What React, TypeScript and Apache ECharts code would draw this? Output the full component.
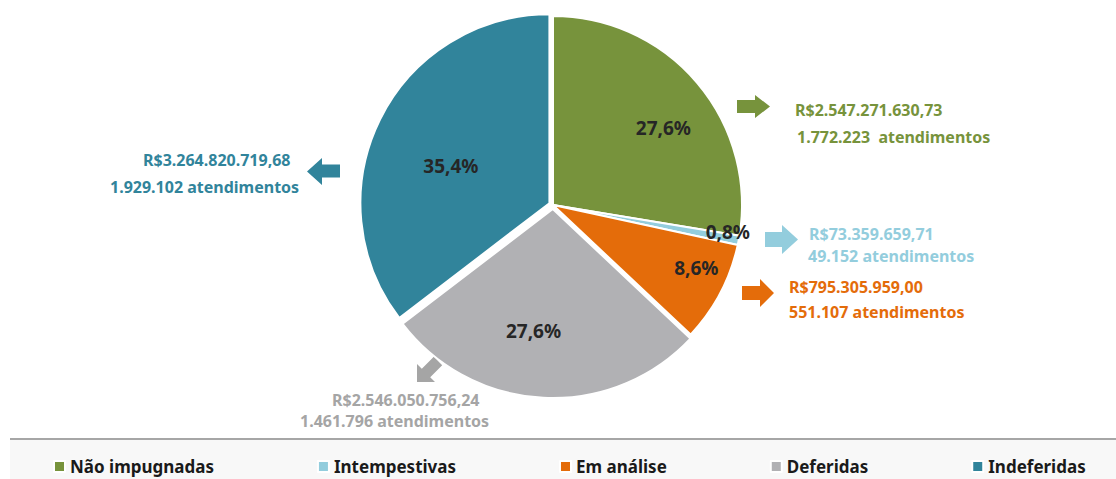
import React, { useEffect, useRef } from "react";
import * as echarts from "echarts";

const categories = ["Não impugnadas", "Intempestivas", "Em análise", "Deferidas", "Indeferidas"];
const amounts = [2547271630.73, 73359659.71, 795305959.0, 2546050756.24, 3264820719.68];
const amountLabels = [
  "R$2.547.271.630,73",
  "R$73.359.659,71",
  "R$795.305.959,00",
  "R$2.546.050.756,24",
  "R$3.264.820.719,68",
];
const countLabels = [
  "1.772.223  atendimentos",
  "49.152 atendimentos",
  "551.107 atendimentos",
  "1.461.796 atendimentos",
  "1.929.102 atendimentos",
];

const colors = ["#77933c", "#93cddd", "#e46c0a", "#b1b1b4", "#31849b"];
const textColors = ["#77933c", "#93cddd", "#e46c0a", "#a5a5a5", "#31849b"];
const exploded = [false, false, false, true, true];
const labelOffsets = [
  [36, -14],
  [79, 9],
  [57, 18],
  [-13, 28],
  [-4, 0],
];
// annotation text anchors: [x1, y1, x2, y2]
const annoPos = [
  [795, 110, 797, 137],
  [809, 234, 808, 256],
  [789, 287, 789, 312],
  [332, 400, 300, 420.5],
  [143, 160, 110, 187],
];
const arrows: number[][][] = [
  [[737, 100], [755, 100], [755, 95], [770, 106.5], [755, 118], [755, 113], [737, 113]],
  [[765, 232], [782, 232], [782, 225], [798, 239.5], [782, 254], [782, 247], [765, 247]],
  [[742, 286], [760, 286], [760, 279], [774, 293], [760, 307], [760, 300], [742, 300]],
  [[417, 382], [417, 364], [421.8, 368.8], [433.8, 356.8], [442.2, 365.2], [430.2, 377.2], [435, 382]],
  [[307, 171.5], [322, 158], [322, 164.5], [340, 164.5], [340, 177.5], [322, 177.5], [322, 185]],
];

const FONT = "'Noto Sans', 'Open Sans', sans-serif";

export default function App() {
  const ref = useRef<HTMLDivElement>(null);
  useEffect(() => {
    document.body.style.margin = "0";
    const chart = echarts.init(ref.current!, null, { renderer: "svg" });
    const graphics: any[] = [
      { type: "rect", shape: { x: 10, y: 440, width: 1106, height: 39 }, style: { fill: "#f8f8f8" }, z: -1 },
      { type: "line", shape: { x1: 10, y1: 439, x2: 1116, y2: 439 }, style: { stroke: "#a6a6a6", lineWidth: 2 } },
    ];
    categories.forEach((_, i) => {
      graphics.push({ type: "polygon", shape: { points: arrows[i] }, style: { fill: textColors[i] } });
      graphics.push({
        type: "text",
        x: annoPos[i][0],
        y: annoPos[i][1],
        style: {
          text: amountLabels[i],
          fill: textColors[i],
          font: `bold 16px ${FONT}`,
          lineHeight: 16,
          textVerticalAlign: "middle",
        },
      });
      graphics.push({
        type: "text",
        x: annoPos[i][2],
        y: annoPos[i][3],
        style: {
          text: countLabels[i],
          fill: textColors[i],
          font: `bold 16px ${FONT}`,
          lineHeight: 16,
          textVerticalAlign: "middle",
        },
      });
    });
    const labelBase = {
      show: true,
      position: "inside",
      fontFamily: FONT,
      fontWeight: "bold",
      fontSize: 19,
      color: "#262626",
      formatter: (p: any) => p.percent.toFixed(1).replace(".", ",") + "%",
    };
    chart.setOption({
      animation: false,
      color: colors,
      legend: {
        left: 48,
        top: 453,
        itemWidth: 11,
        itemHeight: 11,
        itemGap: 103,
        icon: "rect",
        selectedMode: false,
        textStyle: { fontFamily: FONT, fontWeight: "bold", fontSize: 17, color: "#1a1a1a" },
        data: categories,
      },
      graphic: graphics,
      series: [
        {
          type: "pie",
          center: [553, 205],
          radius: 189,
          startAngle: 90,
          clockwise: true,
          selectedMode: "multiple",
          selectedOffset: 4,
          emphasis: { disabled: true },
          itemStyle: { borderColor: "#ffffff", borderWidth: 2 },
          labelLine: { show: false },
          label: labelBase,
          data: categories.map((name, i) => ({
            name,
            value: amounts[i],
            selected: exploded[i],
            label: { offset: labelOffsets[i] },
            select: { label: { ...labelBase, offset: labelOffsets[i] } },
          })),
        },
      ],
    });
    return () => chart.dispose();
  }, []);
  return <div ref={ref} style={{ width: 1116, height: 479 }} />;
}
